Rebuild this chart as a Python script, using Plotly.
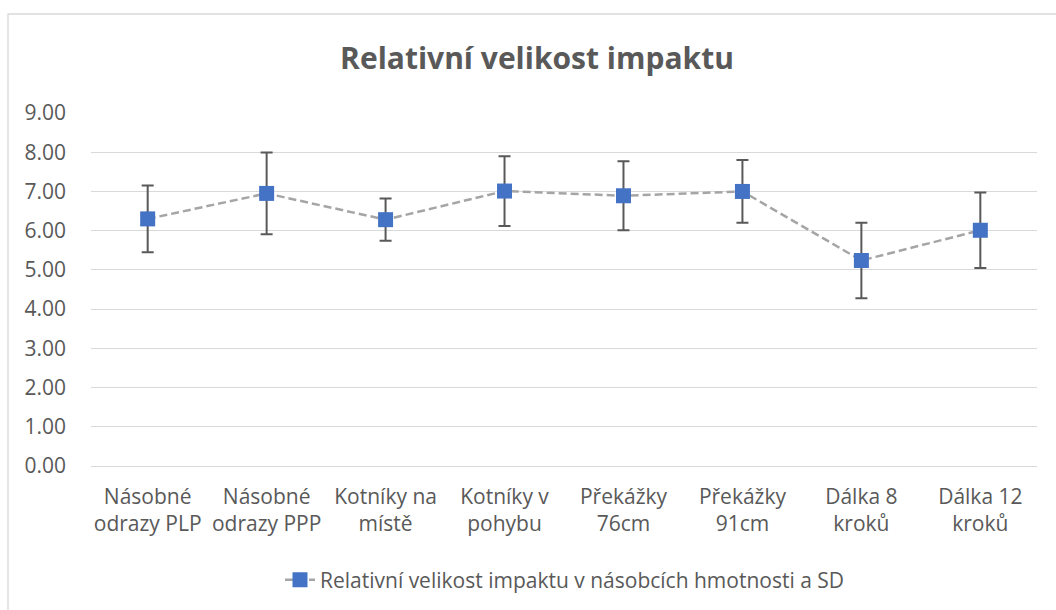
import plotly.graph_objects as go

categories = ["Násobné<br>odrazy PLP", "Násobné<br>odrazy PPP", "Kotníky na<br>místě", "Kotníky v<br>pohybu",
              "Překážky<br>76cm", "Překážky<br>91cm", "Dálka 8<br>kroků", "Dálka 12<br>kroků"]
means = [6.30, 6.95, 6.28, 7.01, 6.89, 7.00, 5.24, 6.01]
sds = [0.85, 1.04, 0.54, 0.89, 0.88, 0.80, 0.96, 0.96]
y_ticks = [0, 1, 2, 3, 4, 5, 6, 7, 8, 9]

FONT = "Open Sans"
GRAY = "#595959"

fig = go.Figure()
fig.add_trace(go.Scatter(
    x=categories, y=means,
    mode="lines+markers",
    name="Relativní velikost impaktu v násobcích hmotnosti a SD",
    line=dict(color="#A5A5A5", width=2.5, dash="8px,4px"),
    marker=dict(symbol="square", size=15, color="#4472C4"),
    error_y=dict(type="data", array=sds, visible=True, color=GRAY, thickness=2, width=6),
))

L, R, T, B = 91, 19, 113, 144
W, H = 1056, 610
pw, ph = W - L - R, H - T - B

fig.update_layout(
    width=W, height=H,
    margin=dict(l=L, r=R, t=T, b=B),
    paper_bgcolor="white", plot_bgcolor="white",
    font=dict(family=FONT, color=GRAY, size=21),
    title=dict(text="<b>Relativní velikost impaktu</b>", x=537 / W, xanchor="center",
               y=1 - 58 / H, yanchor="middle", font=dict(size=30, color=GRAY, family=FONT)),
    showlegend=True,
    legend=dict(orientation="h", x=565 / W, xref="container", xanchor="center",
                y=1 - 580 / H, yref="container", yanchor="middle",
                font=dict(size=21, color=GRAY, family=FONT)),
    xaxis=dict(showgrid=False, showline=False, ticks="", tickfont=dict(size=21, color=GRAY),
               ticklabelstandoff=16),
    yaxis=dict(range=[0, 9], tickvals=y_ticks, tickformat=".2f", showgrid=True,
               gridcolor="#D9D9D9", gridwidth=1.3, zeroline=True, zerolinecolor="#D9D9D9",
               zerolinewidth=1.3, ticks="", tickfont=dict(size=21, color=GRAY),
               ticklabelstandoff=24),
    shapes=[dict(type="rect", xref="paper", yref="paper",
                 x0=(8 - L) / pw, x1=(W + 10 - L) / pw,
                 y0=(H - B - (H + 10)) / ph, y1=(H - B - 14) / ph,
                 line=dict(color="#D9D9D9", width=1.3), layer="below")],
)

fig.write_html("out.html", config={"displayModeBar": False},
               post_script="document.body.style.margin='0';document.body.style.overflow='hidden';")
